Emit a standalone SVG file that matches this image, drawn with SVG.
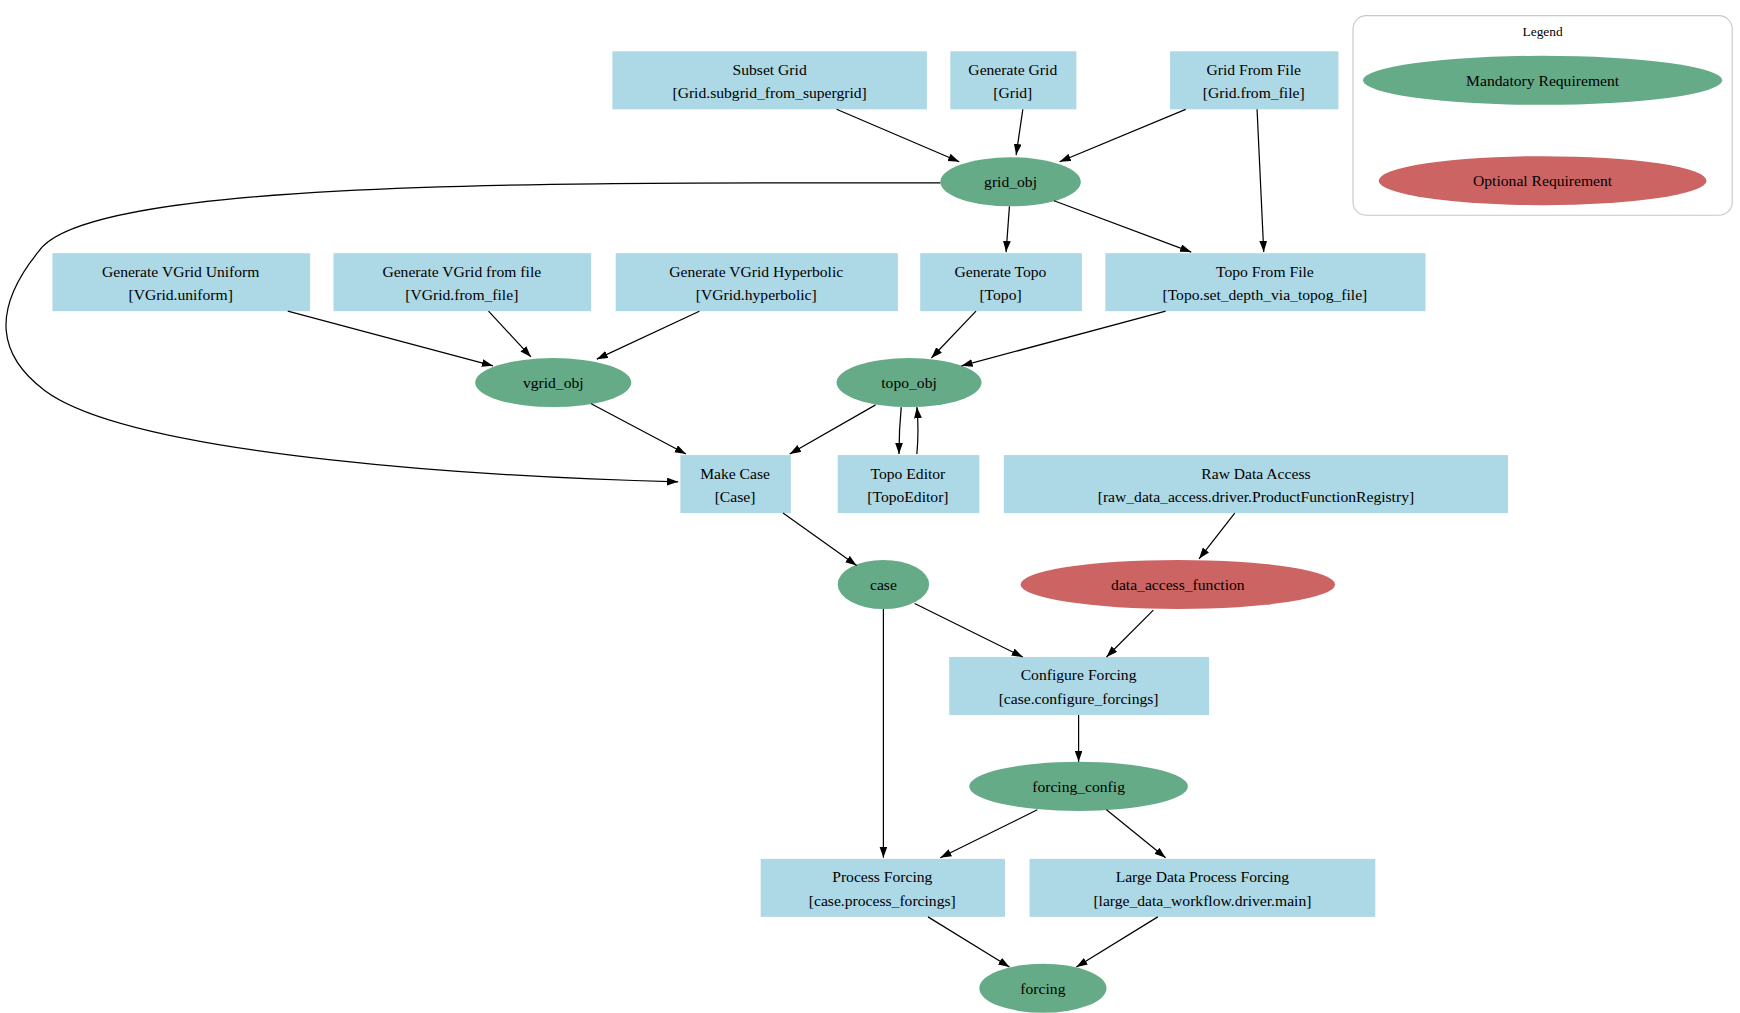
<svg xmlns="http://www.w3.org/2000/svg" width="1740" height="1013" viewBox="0 0 1740 1013">
<style>
text{font-family:"Liberation Serif","DejaVu Serif",serif;font-size:14px;fill:#000;text-anchor:middle}
.b{fill:#add8e6}
.m{fill:#66ab87}
.o{fill:#cd6464}
.e{fill:none;stroke:#000;stroke-width:1.1;marker-end:url(#a)}
</style>
<defs><marker id="a" markerUnits="userSpaceOnUse" markerWidth="11" markerHeight="8" refX="10" refY="3.5" orient="auto"><path d="M0,0L10,3.5L0,7z" fill="#000"/></marker></defs>
<rect width="1740" height="1013" fill="#fff"/>
<g transform="scale(1.1154)">
<g id="legend">
<rect x="1213" y="14" width="340" height="179" rx="12" fill="none" stroke="#c8c8c8"/>
<text x="1383" y="32" style="font-size:12px">Legend</text>
<ellipse cx="1383" cy="72" rx="161" ry="22" class="m"/><text x="1383" y="77">Mandatory Requirement</text>
<ellipse cx="1383" cy="162" rx="147" ry="22" class="o"/><text x="1383" y="167">Optional Requirement</text>
</g>
<g id="subset"><rect class="b" x="549" y="46" width="282" height="52"/><text x="690" y="67">Subset Grid</text><text x="690" y="88">[Grid.subgrid_from_supergrid]</text></g>
<g id="gengrid"><rect class="b" x="852" y="46" width="113" height="52"/><text x="908" y="67">Generate Grid</text><text x="908" y="88">[Grid]</text></g>
<g id="gridfile"><rect class="b" x="1049" y="46" width="151" height="52"/><text x="1124" y="67">Grid From File</text><text x="1124" y="88">[Grid.from_file]</text></g>
<g id="grid_obj"><ellipse class="m" cx="906" cy="163" rx="63" ry="22"/><text x="906" y="168">grid_obj</text></g>
<g id="vuni"><rect class="b" x="47" y="227" width="231" height="52"/><text x="162" y="248">Generate VGrid Uniform</text><text x="162" y="269">[VGrid.uniform]</text></g>
<g id="vfile"><rect class="b" x="299" y="227" width="231" height="52"/><text x="414" y="248">Generate VGrid from file</text><text x="414" y="269">[VGrid.from_file]</text></g>
<g id="vhyp"><rect class="b" x="552" y="227" width="253" height="52"/><text x="678" y="248">Generate VGrid Hyperbolic</text><text x="678" y="269">[VGrid.hyperbolic]</text></g>
<g id="gentopo"><rect class="b" x="825" y="227" width="145" height="52"/><text x="897" y="248">Generate Topo</text><text x="897" y="269">[Topo]</text></g>
<g id="topofile"><rect class="b" x="991" y="227" width="287" height="52"/><text x="1134" y="248">Topo From File</text><text x="1134" y="269">[Topo.set_depth_via_topog_file]</text></g>
<g id="vgrid_obj"><ellipse class="m" cx="496" cy="343" rx="70" ry="22"/><text x="496" y="348">vgrid_obj</text></g>
<g id="topo_obj"><ellipse class="m" cx="815" cy="343" rx="65" ry="22"/><text x="815" y="348">topo_obj</text></g>
<g id="makecase"><rect class="b" x="610" y="408" width="99" height="52"/><text x="659" y="429">Make Case</text><text x="659" y="450">[Case]</text></g>
<g id="topoeditor"><rect class="b" x="751" y="408" width="127" height="52"/><text x="814" y="429">Topo Editor</text><text x="814" y="450">[TopoEditor]</text></g>
<g id="rawdata"><rect class="b" x="900" y="408" width="452" height="52"/><text x="1126" y="429">Raw Data Access</text><text x="1126" y="450">[raw_data_access.driver.ProductFunctionRegistry]</text></g>
<g id="case"><ellipse class="m" cx="792" cy="524" rx="41" ry="22"/><text x="792" y="529">case</text></g>
<g id="daf"><ellipse class="o" cx="1056" cy="524" rx="141" ry="22"/><text x="1056" y="529">data_access_function</text></g>
<g id="configure"><rect class="b" x="851" y="589" width="233" height="52"/><text x="967" y="610">Configure Forcing</text><text x="967" y="631">[case.configure_forcings]</text></g>
<g id="forcing_config"><ellipse class="m" cx="967" cy="705" rx="98" ry="22"/><text x="967" y="710">forcing_config</text></g>
<g id="process"><rect class="b" x="682" y="770" width="219" height="52"/><text x="791" y="791">Process Forcing</text><text x="791" y="812">[case.process_forcings]</text></g>
<g id="large"><rect class="b" x="923" y="770" width="310" height="52"/><text x="1078" y="791">Large Data Process Forcing</text><text x="1078" y="812">[large_data_workflow.driver.main]</text></g>
<g id="forcing"><ellipse class="m" cx="935" cy="886" rx="57" ry="22"/><text x="935" y="891">forcing</text></g>
<g id="connectors">
<path class="e" d="M750,98L860,145"/>
<path class="e" d="M917,98L911,139"/>
<path class="e" d="M1063,98L950,145"/>
<path class="e" d="M1127,98L1133,226"/>
<path class="e" d="M905,185L902,226"/>
<path class="e" d="M945,180L1068,226"/>
<path class="e" d="M843,164C500,164 80,160 35,225C-10,280 0,320 40,350C120,410 450,428 608,432"/>
<path class="e" d="M258,279L442,328"/>
<path class="e" d="M438,279L476,320"/>
<path class="e" d="M627,279L535,322"/>
<path class="e" d="M875,279L835,321"/>
<path class="e" d="M1045,279L862,328"/>
<path class="e" d="M530,362L615,407"/>
<path class="e" d="M785,363L708,407"/>
<path class="e" d="M808,365Q806,385 806,407"/>
<path class="e" d="M822,407Q824,385 822,365"/>
<path class="e" d="M702,460L768,507"/>
<path class="e" d="M1107,460L1075,501"/>
<path class="e" d="M820,541L917,589"/>
<path class="e" d="M1034,547L992,589"/>
<path class="e" d="M792,546L792,769"/>
<path class="e" d="M967,641L967,683"/>
<path class="e" d="M930,726L843,769"/>
<path class="e" d="M992,726L1045,769"/>
<path class="e" d="M832,822L905,867"/>
<path class="e" d="M1038,822L965,867"/>
</g>
</g>
</svg>
